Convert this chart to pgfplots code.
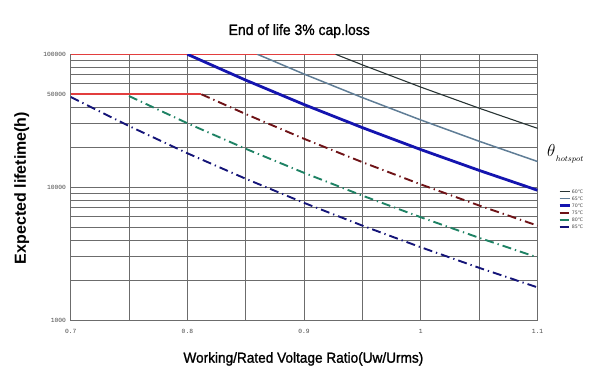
\documentclass[border=0pt]{standalone}
\usepackage{fontspec}
\setmainfont{Liberation Sans}
\newfontfamily\condfont[FakeStretch=0.93, FakeBold=1.3]{Liberation Sans}
\newfontfamily\xlfont[FakeStretch=0.94, FakeBold=1.3]{Liberation Sans}
\newfontfamily\tickfont{Liberation Mono}
\newfontfamily\djv{DejaVu Sans}
\usepackage{pgfplots}
\pgfplotsset{compat=1.18}
\definecolor{gridc}{RGB}{108,108,108}
\definecolor{redl}{RGB}{226,62,62}
\definecolor{c60}{RGB}{40,52,52}
\definecolor{c65}{RGB}{95,125,150}
\definecolor{c70}{RGB}{20,20,175}
\definecolor{c75}{RGB}{110,18,22}
\definecolor{c80}{RGB}{30,130,100}
\definecolor{c85}{RGB}{20,20,120}
\definecolor{tickc}{RGB}{70,70,70}
\begin{document}
\begin{tikzpicture}
\begin{axis}[
  at={(0,0)}, anchor=south west,
  scale only axis, width=466.8pt, height=265.7pt,
  ymode=log, xmin=0.7, xmax=1.1, ymin=1000, ymax=100000,
  xtick={0.7,0.8,0.9,1,1.1}, xticklabels={0.7,0.8,0.9,1,1.1},
  minor xtick={0.75,0.85,0.95,1.05},
  ytick={1000,10000,50000,100000}, yticklabels={1000,10000,50000,100000},
  minor ytick={2000,3000,4000,5000,6000,7000,8000,9000,20000,30000,40000,60000,70000,80000,90000},
  grid=both,
  major grid style={gridc, line width=0.85pt},
  minor grid style={gridc, line width=0.85pt},
  axis line style={gridc, line width=0.85pt},
  major tick length=0pt, minor tick length=0pt,
  xticklabel style={font=\tickfont\fontsize{6.3}{7}\selectfont, text=tickc, inner sep=0pt, anchor=north, yshift=-9pt},
  yticklabel style={font=\tickfont\fontsize{6.3}{7}\selectfont, text=tickc, inner sep=0pt, anchor=east, xshift=-4.5pt},
  legend style={at={(1.0439,0.4968)}, anchor=north west, draw=none, fill=none,
    font=\djv\fontsize{4.7}{5}\selectfont, text=tickc, inner sep=0pt, row sep=0pt,
    nodes={inner xsep=1pt, inner ysep=0.75pt, text height=4.5pt, text depth=1pt}},
  legend cell align=left,
  legend image code/.code={\draw[#1] (0pt,0pt) -- (10pt,0pt);},
]
\addplot[redl, line width=2pt, forget plot] coordinates {(0.7,100000) (0.927,100000)};
\addplot[redl, line width=2pt, forget plot] coordinates {(0.7,50000) (0.812,50000)};
\addplot[c60, line width=1.1pt] coordinates {(0.927,100000) (0.95,83210) (1.0,56630) (1.05,39290) (1.1,27710)};
\addlegendentry{60℃}
\addplot[c65, line width=1.5pt] coordinates {(0.86,100000) (0.9,70960) (0.95,47180) (1.0,32030) (1.05,22150) (1.1,15600)};
\addlegendentry{65℃}
\addplot[c70, line width=2.8pt] coordinates {(0.8,100000) (0.85,63880) (0.9,41830) (0.95,28040) (1.0,19180) (1.05,13370) (1.1,9480)};
\addlegendentry{70℃}
\addplot[c75, line width=1.9pt, dash pattern=on 9pt off 4pt on 1.3pt off 4pt] coordinates {(0.812,50000) (0.85,35490) (0.9,23110) (0.95,15410) (1.0,10490) (1.05,7275) (1.1,5133)};
\addlegendentry{75℃}
\addplot[c80, line width=1.9pt, dash pattern=on 9pt off 4pt on 1.3pt off 4pt] coordinates {(0.75,48480) (0.8,30260) (0.85,19440) (0.9,12810) (0.95,8630) (1.0,5934) (1.05,4156) (1.1,2960)};
\addlegendentry{80℃}
\addplot[c85, line width=1.9pt, dash pattern=on 9pt off 4pt on 1.3pt off 4pt] coordinates {(0.7,47700) (0.75,28830) (0.8,17990) (0.85,11560) (0.9,7613) (0.95,5131) (1.0,3528) (1.05,2471) (1.1,1760)};
\addlegendentry{85℃}
\end{axis}
\node[font=\condfont\fontsize{15}{17}\selectfont, anchor=base, inner sep=0pt] at (228.5pt,285pt) {End of life 3\% cap.loss};
\node[font=\xlfont\fontsize{14.5}{16}\selectfont, anchor=base, inner sep=0pt] at (232.7pt,-42.7pt) {Working/Rated Voltage Ratio(Uw/Urms)};
\node[font=\bfseries\fontsize{16}{18}\selectfont, rotate=90, inner sep=0pt] at (-49pt,132pt) {Expected lifetime(h)};
\node[font=\fontsize{16}{18}\selectfont, inner sep=0pt] at (480.5pt,169pt) {$\theta$};
\node[font=\fontsize{8.5}{9}\selectfont, inner sep=0pt, anchor=west] at (485pt,160pt) {$hotspot$};
\pgfresetboundingbox
\path[use as bounding box] (-70.7pt,-55pt) rectangle (529.3pt,320pt);
\end{tikzpicture}
\end{document}
